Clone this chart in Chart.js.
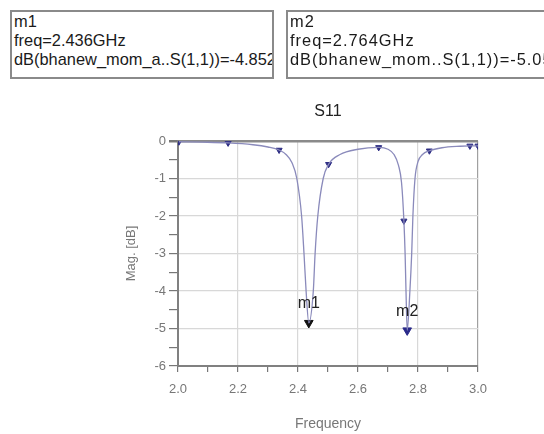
<!DOCTYPE html>
<html>
<head>
<meta charset="utf-8">
<script src="https://cdn.jsdelivr.net/npm/chart.js@4.4.1/dist/chart.umd.min.js"></script>
<style>
  body { margin: 0; background: #fff; }
  #wrap { position: relative; width: 544px; height: 434px; overflow: hidden; }
  canvas { position: absolute; left: 0; top: 0; }
  .mbox {
    position: absolute; top: 10px; height: 57px; padding: 0 0 8px 2px;
    border: 2px solid #8a8a8a; background: #fff; color: #1a1a1a;
    font: 16.4px "Liberation Sans", Arial, sans-serif; line-height: 19px;
    white-space: nowrap; overflow: hidden;
  }
  #box2 { letter-spacing: 1px; }
</style>
</head>
<body>
<div id="wrap">
  <canvas id="s11Chart" width="544" height="434"></canvas>
  <div class="mbox" id="box1" style="left:10px; width:258px;"></div>
  <div class="mbox" id="box2" style="left:286px; width:300px;"></div>
</div>
<script>
// S11 trace (GHz, dB)
const freq = [2.003, 2.08, 2.167, 2.25, 2.30, 2.337, 2.36, 2.38, 2.396, 2.412, 2.42, 2.427, 2.436,
              2.451, 2.457, 2.466, 2.484, 2.502, 2.54, 2.60, 2.669, 2.70, 2.72, 2.735, 2.745, 2.753,
              2.757, 2.760, 2.764, 2.773, 2.779, 2.783, 2.79, 2.80, 2.815, 2.838, 2.88, 2.94, 2.973, 3.0];
const dB   = [-0.02, -0.03, -0.05, -0.10, -0.16, -0.24, -0.36, -0.58, -1.0, -2.0, -3.0, -4.0, -4.852,
              -4.0, -3.0, -2.0, -1.0, -0.62, -0.36, -0.22, -0.17, -0.22, -0.36, -0.65, -1.1, -2.13,
              -3.0, -4.0, -5.05, -4.0, -3.0, -2.0, -1.0, -0.55, -0.36, -0.26, -0.18, -0.14, -0.13, -0.13];

// trace symbols
const symFreq = [2.003, 2.167, 2.337, 2.502, 2.669, 2.753, 2.838, 2.973, 3.0];
const symDB   = [-0.02, -0.05, -0.24, -0.62, -0.17, -2.13, -0.26, -0.13, -0.13];

// markers
const markerNames = ['m1', 'm2'];
const markerFreq  = [2.436, 2.764];
const markerDB    = [-4.852, -5.05];
const markerTrace = ['dB(bhanew_mom_a..S(1,1))', 'dB(bhanew_mom..S(1,1))'];

const xTicks = [2.0, 2.2, 2.4, 2.6, 2.8, 3.0];

document.getElementById('box1').innerHTML =
  markerNames[0] + '<br>freq=' + markerFreq[0].toFixed(3) + 'GHz<br>' + markerTrace[0] + '=' + markerDB[0].toFixed(3);
document.getElementById('box2').innerHTML =
  markerNames[1] + '<br>freq=' + markerFreq[1].toFixed(3) + 'GHz<br>' + markerTrace[1] + '=' + markerDB[1].toFixed(2);

const tracePts = freq.map((f, i) => ({x: f, y: dB[i]}));
const symPts = symFreq.map((f, i) => ({x: f, y: symDB[i]}));
const markPts = markerFreq.map((f, i) => ({x: f, y: markerDB[i]}));

const isMajorX = v => xTicks.some(t => Math.abs(t - v) < 1e-6);
const isMajorY = v => Math.abs(v - Math.round(v)) < 1e-6;

const labels = {
  id: 'labels',
  afterDatasetsDraw(chart) {
    const ctx = chart.ctx;
    const xs = chart.scales.x, ys = chart.scales.y;
    ctx.save();
    ctx.fillStyle = '#222';
    ctx.font = '16px "Liberation Sans", Arial, sans-serif';
    ctx.textAlign = 'center';
    ctx.textBaseline = 'middle';
    ctx.fillText('S11', (chart.chartArea.left + chart.chartArea.right) / 2, 112);
    markerNames.forEach((n, i) => {
      const px = xs.getPixelForValue(markerFreq[i]);
      const py = ys.getPixelForValue(markerDB[i]);
      ctx.fillText(n, px, py - 19);
    });
    ctx.restore();
  }
};

new Chart(document.getElementById('s11Chart').getContext('2d'), {
  type: 'scatter',
  data: {
    datasets: [
      {
        data: tracePts,
        showLine: true,
        borderColor: '#8a8abb',
        borderWidth: 1.3,
        pointRadius: 0,
        cubicInterpolationMode: 'monotone'
      },
      {
        data: symPts,
        showLine: false,
        pointStyle: 'triangle',
        rotation: 180,
        pointRadius: 3.5,
        backgroundColor: '#2e2e84',
        borderColor: '#2e2e84'
      },
      {
        data: markPts,
        showLine: false,
        pointStyle: 'triangle',
        rotation: 180,
        pointRadius: 5,
        backgroundColor: ['#111', '#2a2a8a'],
        borderColor: ['#111', '#2a2a8a']
      }
    ]
  },
  options: {
    responsive: false,
    animation: false,
    layout: { padding: { left: 110, right: 66, top: 141, bottom: 0 } },
    plugins: { legend: { display: false }, tooltip: { enabled: false } },
    scales: {
      x: {
        type: 'linear',
        min: 2, max: 3,
        afterFit: s => { s.height = 68; },
        ticks: {
          stepSize: 0.1,
          autoSkip: false,
          maxRotation: 0,
          padding: 10,
          color: '#777',
          font: { size: 13, family: '"Liberation Sans", Arial, sans-serif' },
          callback: v => isMajorX(v) ? v.toFixed(1) : ''
        },
        grid: {
          color: c => c.tick && Math.abs(c.tick.value - 3) < 1e-6 ? '#a0a0a0' : (c.tick && isMajorX(c.tick.value) ? '#d8d8d8' : 'rgba(0,0,0,0)'),
          tickColor: '#777',
          tickLength: 6,
          lineWidth: 1.2
        },
        border: { color: '#808080', width: 2 },
        title: {
          display: true,
          text: 'Frequency',
          color: '#777',
          padding: { top: 0, bottom: 1 },
          font: { size: 14, family: '"Liberation Sans", Arial, sans-serif' }
        }
      },
      y: {
        min: -6, max: 0,
        afterFit: s => { s.width = 68; },
        ticks: {
          stepSize: 0.5,
          autoSkip: false,
          padding: 3,
          color: '#777',
          font: { size: 13, family: '"Liberation Sans", Arial, sans-serif' },
          callback: v => isMajorY(v) ? String(Math.round(v)) : ''
        },
        grid: {
          color: c => c.tick && c.tick.value === 0 ? '#8a8a8a' : (c.tick && isMajorY(c.tick.value) ? '#d8d8d8' : 'rgba(0,0,0,0)'),
          lineWidth: c => c.tick && c.tick.value === 0 ? 2.5 : 1.2,
          tickColor: '#777',
          tickLength: 9
        },
        border: { color: '#808080', width: 2 },
        title: {
          display: true,
          text: 'Mag. [dB]',
          color: '#777',
          padding: { top: 14, bottom: 0 },
          font: { size: 13, family: '"Liberation Sans", Arial, sans-serif' }
        }
      }
    }
  },
  plugins: [labels]
});
</script>
</body>
</html>
